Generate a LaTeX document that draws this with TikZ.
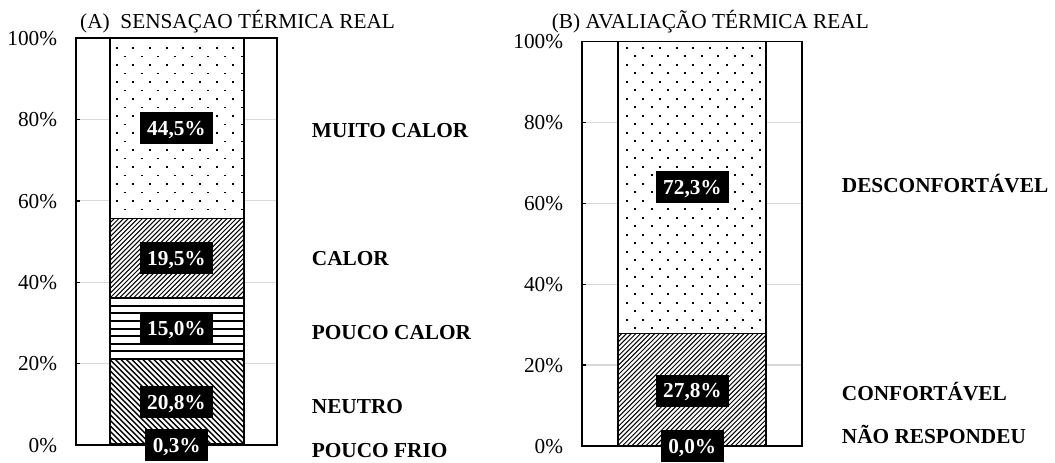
\documentclass[tikz,border=0pt]{standalone}
\usepackage{fontspec}
\setmainfont{Liberation Serif}
\definecolor{gridgray}{HTML}{D9D9D9}
\begin{document}
\begin{tikzpicture}[x=1pt,y=-1pt,
  frame/.style={draw=black,line width=1.4pt},
  gridl/.style={draw=gridgray,line width=1.3pt},
  seg/.style={draw=black,line width=1.4pt},
  hatch/.style={draw=black,line width=1pt},
  pct/.style={fill=black,text=white,font=\fontsize{21.3}{24}\selectfont\bfseries,inner xsep=7.5pt,inner ysep=0pt,minimum height=32pt,text height=14.4pt,text depth=0pt},
  axl/.style={font=\fontsize{21.3}{24}\selectfont,anchor=east,inner sep=0pt,text height=14.4pt,text depth=0pt},
  catl/.style={font=\fontsize{21.3}{24}\selectfont\bfseries,anchor=west,inner sep=0pt,text height=14.1pt,text depth=0pt},
  ttl/.style={font=\fontsize{21.3}{24}\selectfont,anchor=west,inner sep=0pt,text height=14.1pt,text depth=0pt}]
\useasboundingbox (0,0) rectangle (1055,463);
\fill[white] (0,0) rectangle (1055,463);

% ================= LEFT CHART =================
\foreach \yy in {119.4,200.8,282.2,363.6}{
  \draw[gridl] (76,\yy) -- (277,\yy);
  \draw[black,line width=1.4pt] (76,\yy) -- (80,\yy);
}
\fill[white] (110,38) rectangle (244,445);
% dots (muito calor)
\begin{scope}
  \clip (110,38) rectangle (244,218.7);
  \foreach \j in {0,...,19}{
    \pgfmathsetmacro{\off}{mod(\j,2)*8.33}
    \foreach \k in {0,...,8}{
      \fill[black] ({116.7+\off+16.67*\k-0.9},{48+8.5*\j-0.9}) rectangle ++(1.8,1.8);
    }
  }
\end{scope}
% forward hatch (calor)
\begin{scope}
  \clip (110,218.7) rectangle (244,298.1);
  \foreach \x in {0,...,46}{
    \draw[hatch] ({30+4.7*\x},298.1) -- ++(80,-80);
  }
\end{scope}
% horizontal lines (pouco calor)
\begin{scope}
  \clip (110,298.1) rectangle (244,359.1);
  \foreach \k in {1,...,7}{
    \draw[black,line width=2pt] (110,{298.1+7.6*\k}) -- (244,{298.1+7.6*\k});
  }
\end{scope}
% back hatch (neutro)
\begin{scope}
  \clip (110,359.1) rectangle (244,443.8);
  \foreach \x in {0,...,42}{
    \draw[black,line width=1.3pt] ({16+5.5*\x},359.1) -- ++(86,86);
  }
\end{scope}
\draw[seg] (110,38) rectangle (244,218.7);
\draw[seg] (110,218.7) rectangle (244,298.1);
\draw[seg] (110,298.1) rectangle (244,359.1);
\draw[seg] (110,359.1) rectangle (244,443.8);
\draw[seg] (110,443.8) rectangle (244,445);
\draw[frame] (76,38) rectangle (277,445);

\node[axl] (la100) at (57.3,38) {100\%};
\node[axl] (la80) at (57.3,119.4) {80\%};
\node[axl] (la60) at (57.3,200.8) {60\%};
\node[axl] (la40) at (57.3,282.2) {40\%};
\node[axl] (la20) at (57.3,363.6) {20\%};
\node[axl] (la0) at (57.3,445) {0\%};

\node[pct] (p445) at (176.5,128.3) {44,5\%};
\node[pct] (p195) at (176.5,258.3) {19,5\%};
\node[pct] (p150) at (176.5,328.6) {15,0\%};
\node[pct] (p208) at (176.5,402) {20,8\%};
\node[pct] (p03) at (176.8,445) {0,3\%};

\node[catl] (cmc) at (311.7,130) {MUITO CALOR};
\node[catl] (cc) at (311.7,258) {CALOR};
\node[catl] (cpc) at (311.7,332) {POUCO CALOR};
\node[catl] (cn) at (311.7,406) {NEUTRO};
\node[catl] (cpf) at (311.7,450) {POUCO FRIO};

\node[ttl] (ta) at (80,21) {(A)\ \ SENSAÇAO TÉRMICA REAL};

% ================= RIGHT CHART =================
\foreach \yy in {122.4,203.3,284.2,365.1}{
  \draw[gridl] (582,\yy) -- (802,\yy);
  \draw[black,line width=1.4pt] (582,\yy) -- (586,\yy);
}
\fill[white] (618,41.5) rectangle (766,446);
% dots (desconfortavel)
\begin{scope}
  \clip (618,41.5) rectangle (766,333.5);
  \foreach \j in {0,...,33}{
    \pgfmathsetmacro{\off}{mod(\j,2)*8.33}
    \foreach \k in {0,...,9}{
      \fill[black] ({626.7+\off+16.67*\k-0.9},{47.7+8.5*\j-0.9}) rectangle ++(1.8,1.8);
    }
  }
\end{scope}
% forward hatch (confortavel)
\begin{scope}
  \clip (618,333.5) rectangle (766,446);
  \foreach \x in {0,...,58}{
    \draw[hatch] ({500+4.7*\x},446) -- ++(115,-115);
  }
\end{scope}
\draw[seg] (618,41.5) rectangle (766,333.5);
\draw[seg] (618,333.5) rectangle (766,446);
\draw[frame] (582,41.5) rectangle (802,446);

\node[axl] (ra100) at (563.3,41.5) {100\%};
\node[axl] (ra80) at (563.3,122.4) {80\%};
\node[axl] (ra60) at (563.3,203.3) {60\%};
\node[axl] (ra40) at (563.3,284.2) {40\%};
\node[axl] (ra20) at (563.3,365.1) {20\%};
\node[axl] (ra0) at (563.3,446) {0\%};

\node[pct] (p723) at (692.5,187.3) {72,3\%};
\node[pct] (p278) at (692.5,390.5) {27,8\%};
\node[pct] (p00) at (692.3,446) {0,0\%};

\node[catl] (cd) at (841.7,185) {DESCONFORTÁVEL};
\node[catl] (cco) at (841.7,393) {CONFORTÁVEL};
\node[catl] (cnr) at (841.7,436.5) {NÃO RESPONDEU};

\node[ttl] (tb) at (551.7,21) {(B) AVALIAÇÃO TÉRMICA REAL};
\end{tikzpicture}
\end{document}
